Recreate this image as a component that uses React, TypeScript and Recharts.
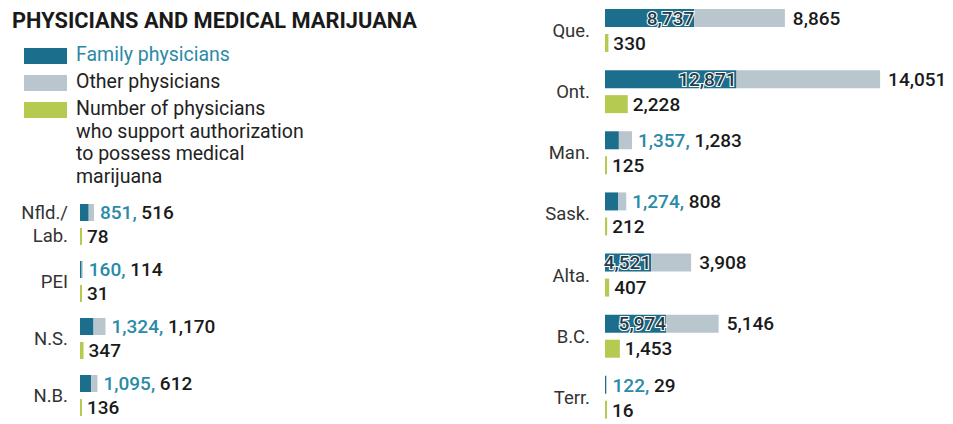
import React from "react"
import { BarChart, Bar, XAxis, YAxis, LabelList } from "recharts"

// values
const leftProvinces = ["Nfld./ Lab.", "PEI", "N.S.", "N.B."]
const leftFamily = [851, 160, 1324, 1095]
const leftOther = [516, 114, 1170, 612]
const leftSupport = [78, 31, 347, 136]

const rightProvinces = ["Que.", "Ont.", "Man.", "Sask.", "Alta.", "B.C.", "Terr."]
const rightFamily = [8737, 12871, 1357, 1274, 4521, 5974, 122]
const rightOther = [8865, 14051, 1283, 808, 3908, 5146, 29]
const rightSupport = [330, 2228, 125, 212, 407, 1453, 16]

const legendItems = [
  ["Family physicians"],
  ["Other physicians"],
  ["Number of physicians", "who support authorization", "to possess medical", "marijuana"],
]

const FONT = "Roboto, 'Noto Sans', sans-serif"
const TEAL = "#1b6f8c"
const TEAL_TEXT = "#2a8aa7"
const GRAY = "#b9c6cd"
const GREEN = "#b4ca50"
const INK = "#1a1a1a"
const DOMAIN_MAX = 32000
const LABEL_SIZE = 19

type Row = { name: string; family: number; other: number; support: number }

function makeRows(names: string[], fam: number[], oth: number[], sup: number[]): Row[] {
  return names.map((name, i) => ({ name, family: fam[i], other: oth[i], support: sup[i] }))
}

const leftRows = makeRows(leftProvinces, leftFamily, leftOther, leftSupport)
const rightRows = makeRows(rightProvinces, rightFamily, rightOther, rightSupport)

const fmt = (v: number) => v.toLocaleString("en-US")

function ProvinceTick({ x, y, payload }: any) {
  const lines = String(payload.value).split(" ")
  const start = -((lines.length - 1) * 23) / 2
  return (
    <text x={x} y={y} textAnchor="end" fontFamily={FONT} fontSize={18.5} fill="#333">
      {lines.map((l, i) => (
        <tspan key={i} x={x} y={y + start + i * 23} dy="0.35em">
          {l}
        </tspan>
      ))}
    </text>
  )
}

function otherLabel(rows: Row[]) {
  return (p: any) => {
    const vb = p.viewBox || p
    const { x, y, width, height } = vb
    const row = rows[p.index] ?? rows.find((r) => r.other === p.value)
    if (!row) return null
    const cy = y + height / 2
    const end = x + width
    if (row.family >= 4000) {
      return (
        <g fontFamily={FONT} fontSize={LABEL_SIZE} fontWeight={500}>
          <text x={x} y={cy} dy="0.35em" textAnchor="end" fill="#223c4a" stroke="#fff" strokeWidth={2.2} paintOrder="stroke">
            {fmt(row.family)}
          </text>
          <text x={end + 8} y={cy} dy="0.35em" fill={INK}>
            {fmt(row.other)}
          </text>
        </g>
      )
    }
    return (
      <text x={end + 6} y={cy} dy="0.35em" fontFamily={FONT} fontSize={LABEL_SIZE} fontWeight={500}>
        <tspan fill={TEAL_TEXT}>{fmt(row.family)},</tspan>
        <tspan fill={INK}>{" " + fmt(row.other)}</tspan>
      </text>
    )
  }
}

function supportLabel(p: any) {
  const vb = p.viewBox || p
  const { x, y, width, height } = vb
  return (
    <text x={x + width + 5} y={y + height / 2} dy="0.35em" fontFamily={FONT} fontSize={LABEL_SIZE} fontWeight={500} fill={INK}>
      {fmt(Number(p.value))}
    </text>
  )
}

function ProvinceChart({ rows, width, height, axisWidth, tickMargin, barSize, barGap, rightMargin }: any) {
  return (
    <BarChart
      width={width}
      height={height}
      data={rows}
      layout="vertical"
      margin={{ top: 0, right: rightMargin, bottom: 0, left: 0 }}
      barGap={barGap}
    >
      <XAxis type="number" domain={[0, DOMAIN_MAX]} hide />
      <YAxis
        type="category"
        dataKey="name"
        width={axisWidth}
        axisLine={false}
        tickLine={false}
        tickSize={0}
        tickMargin={tickMargin}
        tick={<ProvinceTick />}
        interval={0}
      />
      <Bar dataKey="family" stackId="a" fill={TEAL} barSize={barSize} isAnimationActive={false} />
      <Bar dataKey="other" stackId="a" fill={GRAY} barSize={barSize} isAnimationActive={false}>
        <LabelList dataKey="other" content={otherLabel(rows)} />
      </Bar>
      <Bar dataKey="support" stackId="b" fill={GREEN} barSize={barSize} minPointSize={2} isAnimationActive={false}>
        <LabelList dataKey="support" content={supportLabel} />
      </Bar>
    </BarChart>
  )
}

export default function App() {
  const swatches = [TEAL, GRAY, GREEN]
  return (
    <div
      style={{
        position: "absolute",
        left: 0,
        top: 0,
        width: 953,
        height: 424,
        overflow: "hidden",
        background: "#fff",
        fontFamily: FONT,
      }}
    >
      <div style={{ position: "absolute", left: 12, top: 8, fontSize: 21.8, fontWeight: 700, color: "#1a1a1a", whiteSpace: "nowrap" }}>
        PHYSICIANS AND MEDICAL MARIJUANA
      </div>
      {legendItems.map((lines, i) => (
        <React.Fragment key={lines[0]}>
          <div style={{ position: "absolute", left: 24, top: 48 + i * 27, width: 43, height: 16, background: swatches[i] }} />
          <div
            style={{
              position: "absolute",
              left: 76,
              top: 44 + i * 27,
              fontSize: 19.5,
              lineHeight: "22.7px",
              whiteSpace: "nowrap",
              color: i === 0 ? TEAL_TEXT : "#222",
            }}
          >
            {lines.map((l) => (
              <div key={l}>{l}</div>
            ))}
          </div>
        </React.Fragment>
      ))}
      <div style={{ position: "absolute", left: 0, top: 196 }}>
        <ProvinceChart rows={leftRows} width={417} height={228} axisWidth={80} tickMargin={12} barSize={17} barGap={7} rightMargin={10} />
      </div>
      <div style={{ position: "absolute", left: 500, top: 0 }}>
        <ProvinceChart rows={rightRows} width={452} height={428} axisWidth={105} tickMargin={15} barSize={18} barGap={7} rightMargin={20} />
      </div>
    </div>
  )
}
